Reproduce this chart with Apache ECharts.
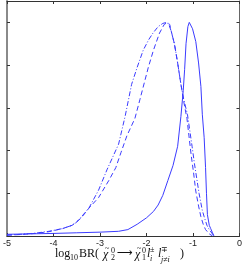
<!DOCTYPE html>
<html><head><meta charset="utf-8">
<script src="https://cdn.jsdelivr.net/npm/echarts@6/dist/echarts.min.js"></script>
<style>html,body{margin:0;padding:0;background:#fff}#c{width:245px;height:268px}</style>
</head><body><div id="c"></div>
<script>
var xTicks = [-5, -4, -3, -2, -1, 0];
var solidX = [-5, -4.5, -4, -3.5, -3, -2.6, -2.4, -2.2, -2.0, -1.85, -1.75, -1.65, -1.54, -1.43, -1.33, -1.26, -1.21, -1.18, -1.15, -1.11, -1.08, -1.01, -0.94, -0.88, -0.83, -0.80, -0.76, -0.73, -0.71, -0.69, -0.65, -0.62, -0.58, -0.55];
var solidY = [0.008, 0.01, 0.012, 0.015, 0.018, 0.022, 0.03, 0.055, 0.085, 0.115, 0.145, 0.19, 0.26, 0.33, 0.42, 0.56, 0.68, 0.78, 0.9, 0.98, 1.0, 0.97, 0.91, 0.81, 0.7, 0.57, 0.46, 0.32, 0.2, 0.1, 0.05, 0.035, 0.015, 0];
var dashX = [-5, -4.7, -4.4, -4.1, -3.8, -3.6, -3.41, -3.24, -3.03, -2.81, -2.66, -2.55, -2.42, -2.25, -2.14, -1.96, -1.85, -1.72, -1.62, -1.55, -1.50, -1.47, -1.40, -1.33, -1.26, -1.20, -1.13, -1.04, -0.99, -0.94, -0.88, -0.83, -0.78, -0.73, -0.65, -0.58];
var dashY = [0.004, 0.007, 0.012, 0.02, 0.035, 0.05, 0.083, 0.13, 0.18, 0.26, 0.32, 0.39, 0.47, 0.55, 0.64, 0.79, 0.87, 0.95, 0.99, 1.0, 0.99, 0.96, 0.90, 0.81, 0.71, 0.63, 0.55, 0.38, 0.30, 0.21, 0.14, 0.09, 0.055, 0.03, 0.01, 0];
var dotX = [-5, -4.7, -4.4, -4.1, -3.8, -3.6, -3.5, -3.4, -3.24, -3.03, -2.85, -2.6, -2.46, -2.32, -2.2, -2.07, -1.95, -1.86, -1.75, -1.65, -1.57, -1.52, -1.47, -1.40, -1.33, -1.26, -1.20, -1.12, -1.02, -0.97, -0.92, -0.87, -0.80, -0.76, -0.70, -0.65, -0.55];
var dotY = [0.004, 0.008, 0.013, 0.022, 0.035, 0.05, 0.065, 0.09, 0.13, 0.215, 0.31, 0.43, 0.56, 0.71, 0.79, 0.87, 0.92, 0.95, 0.98, 0.995, 1.0, 0.99, 0.96, 0.90, 0.81, 0.71, 0.64, 0.57, 0.42, 0.34, 0.27, 0.2, 0.12, 0.09, 0.05, 0.03, 0];

function zip(a, b) { return a.map(function (v, i) { return [v, b[i]]; }); }

var chart = echarts.init(document.getElementById('c'), null, {renderer: 'canvas'});
var blue = '#3b3bff';
var axisCommon = {
  type: 'value', splitLine: {show: false},
  axisTick: {show: true, inside: true, length: 3, lineStyle: {color: '#333', width: 1}},
  axisLine: {show: true, onZero: false, lineStyle: {color: '#333', width: 1}}
};
var serif = 'Liberation Serif';
function t(text, x, y, size, italic, font) {
  return {type: 'text', x: x, y: y, silent: true,
    style: {text: text, x: 0, y: 0, align: 'left', verticalAlign: 'top', fontFamily: font || serif, fontSize: size, fontStyle: italic ? 'italic' : 'normal', fill: '#111'}};
}
chart.setOption({
  animation: false,
  grid: {left: 7, right: 3, top: 1, bottom: 32, containLabel: false},
  xAxis: [
    Object.assign({}, axisCommon, {min: xTicks[0], max: xTicks[xTicks.length - 1], interval: 1, position: 'bottom',
      axisLabel: {show: true, margin: 3, fontSize: 9, fontFamily: 'Liberation Sans', color: '#222',
        formatter: function (v) { return String(v); }}}),
    Object.assign({}, axisCommon, {min: xTicks[0], max: xTicks[xTicks.length - 1], interval: 1, position: 'top', axisLabel: {show: false}})
  ],
  yAxis: [
    Object.assign({}, axisCommon, {min: 0, max: 1.1, interval: 0.2, position: 'left', axisLabel: {show: false},
      axisLine: {show: true, onZero: false, lineStyle: {color: '#8a8a8a', width: 2}}}),
    Object.assign({}, axisCommon, {min: 0, max: 1.1, interval: 0.2, position: 'right', axisLabel: {show: false},
      axisLine: {show: true, onZero: false, lineStyle: {color: '#666', width: 1}}})
  ],
  series: [
    {type: 'line', data: zip(solidX, solidY), showSymbol: false, lineStyle: {color: blue, width: 1, type: 'solid'}},
    {type: 'line', data: zip(dashX, dashY), showSymbol: false, lineStyle: {color: blue, width: 1, type: [5, 3]}},
    {type: 'line', data: zip(dotX, dotY), showSymbol: false, lineStyle: {color: blue, width: 1, type: [5, 2, 1, 2]}}
  ],
  graphic: [
    t('log', 55, 248, 12, false),
    t('10', 70, 254, 8, false),
    t('BR(', 79, 248, 12, false),
    t('\u03C7', 103, 249, 12, true),
    t('~', 105, 245, 8, false),
    t('0', 111, 247, 8, false),
    t('2', 111, 254, 8, false),
    t('\u27F6', 117, 248, 11, false, 'DejaVu Sans'),
    t('\u03C7', 135, 249, 12, true),
    t('~', 137, 245, 8, false),
    t('0', 142, 247, 8, false),
    t('1', 142, 254, 8, false),
    t('l', 147, 248, 12, true),
    t('\u00B1', 150, 246, 8, false),
    t('i', 150, 255, 8, true),
    t('l', 158, 248, 12, true),
    t('\u2213', 161, 246, 8, false),
    t('j\u2260i', 161, 256, 8, true),
    t(')', 180, 248, 12, false)
  ]
});
</script></body></html>
